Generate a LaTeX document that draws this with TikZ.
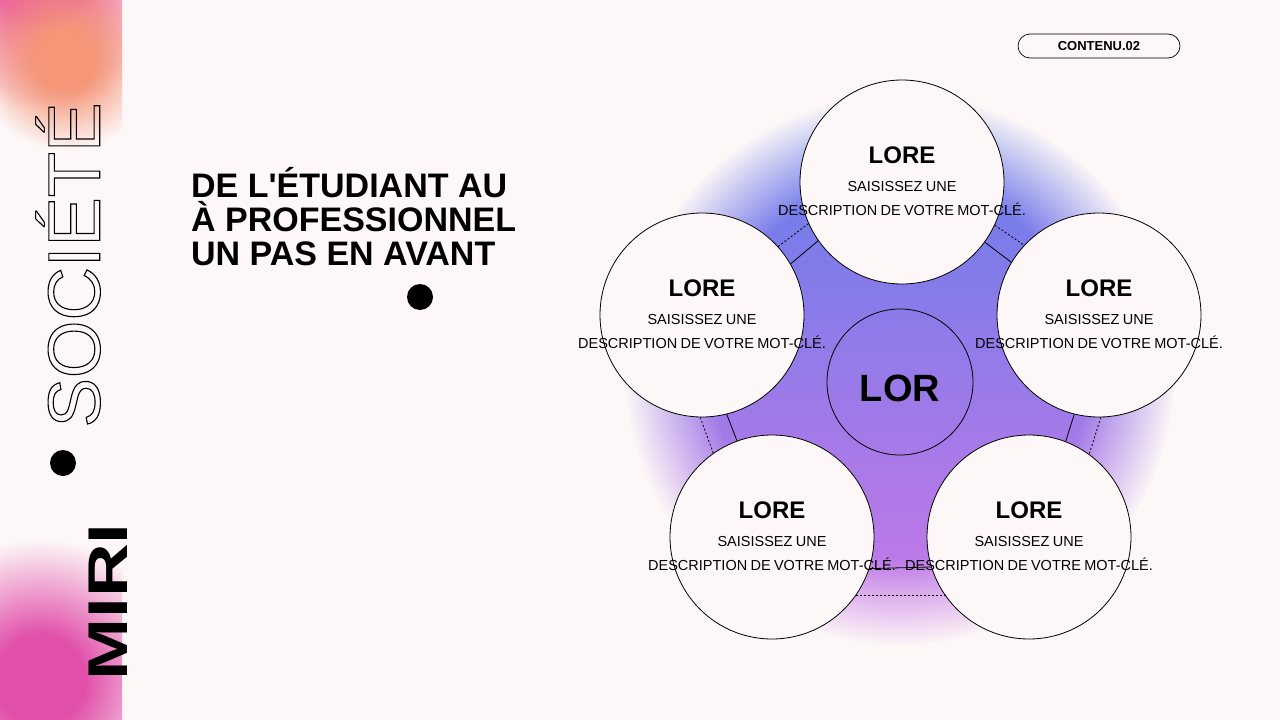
\documentclass[tikz,border=0pt]{standalone}
\usepackage{fontspec}
\setmainfont{Liberation Sans}
\usetikzlibrary{fadings}
\definecolor{bg}{RGB}{253,247,247}
\definecolor{gblue}{RGB}{95,125,235}
\definecolor{gpurp}{RGB}{205,120,230}
\pgfdeclareradialshading{glowshade}{\pgfpoint{0bp}{0bp}}{color(0bp)=(pgftransparent!0); color(17bp)=(pgftransparent!0); color(25bp)=(pgftransparent!100); color(50bp)=(pgftransparent!100)}
\pgfdeclarefading{glow}{\pgfuseshading{glowshade}}
\pgfdeclareradialshading{blobshade}{\pgfpoint{0bp}{0bp}}{color(0bp)=(pgftransparent!0); color(8bp)=(pgftransparent!0); color(25bp)=(pgftransparent!100); color(50bp)=(pgftransparent!100)}
\pgfdeclarefading{blob}{\pgfuseshading{blobshade}}
\tikzset{
  bubble/.style={circle,draw,line width=0.8pt,fill=bg,minimum size=204pt,inner sep=0pt},
  conn/.style={line width=0.8pt},
  dconn/.style={line width=0.8pt,dash pattern=on 2pt off 2pt},
  btext/.style={text width=300pt,align=center,anchor=north,inner sep=0pt},
}
\newcommand{\bubtext}{{\fontsize{24}{24}\selectfont\bfseries LORE\par}\vspace{4pt}{\fontsize{14.5}{24}\selectfont SAISISSEZ UNE\\DESCRIPTION DE VOTRE MOT-CLÉ.\par}}
\begin{document}
\begin{tikzpicture}[x=1pt,y=-1pt]
\useasboundingbox (0,0) rectangle (1280,720);
\fill[bg] (0,0) rectangle (1280,720);
\begin{scope}
\clip (0,0) rectangle (122,720);
\fill[color={rgb,255:red,236;green,100;blue,160},path fading=blob] (40,-20) circle (130);
\fill[color={rgb,255:red,245;green,150;blue,120},path fading=blob] (65,60) circle (90);
\fill[color={rgb,255:red,225;green,80;blue,170},path fading=blob] (40,680) circle (140);
\end{scope}
\shade[top color=gblue,bottom color=gpurp,path fading=glow] (900,370) ellipse (275 and 275);
\node[bubble] (t) at (902,182) {};
\node[bubble] (l) at (702,315) {};
\node[bubble] (r) at (1099,315) {};
\node[bubble] (bl) at (772,537) {};
\node[bubble] (br) at (1029,537) {};
\node[circle,draw,line width=0.8pt,minimum size=146pt,inner sep=0pt] (c) at (900,382) {};
\draw[conn] (t.215.9) -- (l.30.5);
\draw[dconn] (t.204.9) -- (l.42.7);
\draw[conn] (t.324.1) -- (r.149.5);
\draw[dconn] (t.335.1) -- (r.137.3);
\draw[conn] (l.284) -- (bl.110.5);
\draw[dconn] (l.269) -- (bl.125.2);
\draw[conn] (r.256) -- (br.69.5);
\draw[dconn] (r.271) -- (br.54.8);
\draw[conn] (bl.342.8) -- (br.197.2);
\draw[dconn] (bl.325) -- (br.215);
\node[btext] (tt) at (902,147) {\bubtext};
\node[btext] (lt) at (702,280) {\bubtext};
\node[btext] (rt) at (1099,280) {\bubtext};
\node[btext] (blt) at (772,502) {\bubtext};
\node[btext] (brt) at (1029,502) {\bubtext};
\node[font=\fontsize{38}{38}\selectfont\bfseries] (ct) at (900,388) {LOR};
\node[draw,rounded corners=12pt,minimum width=162pt,minimum height=24pt,line width=0.7pt,font=\fontsize{13}{13}\selectfont\bfseries] (pill) at (1099,46) {CONTENU.02};
\node[anchor=north west,align=left,inner sep=0pt,font=\fontsize{34}{34}\selectfont\bfseries] (title) at (191,167) {DE L\textquotesingle ÉTUDIANT AU\\À PROFESSIONNEL\\UN PAS EN AVANT};
\fill (420,297) circle (13);
\fill (63,463) circle (13);
\node[rotate=90,inner sep=0pt,font=\fontsize{74}{74}\selectfont] (soc) at (68,265) {\special{pdf:code 1 Tr 1.1 w}SOCIÉTÉ\special{pdf:code 0 Tr}};
\node[rotate=90,inner sep=0pt,font=\fontsize{56}{56}\selectfont\bfseries] (miri) at (108,602) {\scalebox{1.33}[1]{MIRI}};
\end{tikzpicture}
\end{document}
